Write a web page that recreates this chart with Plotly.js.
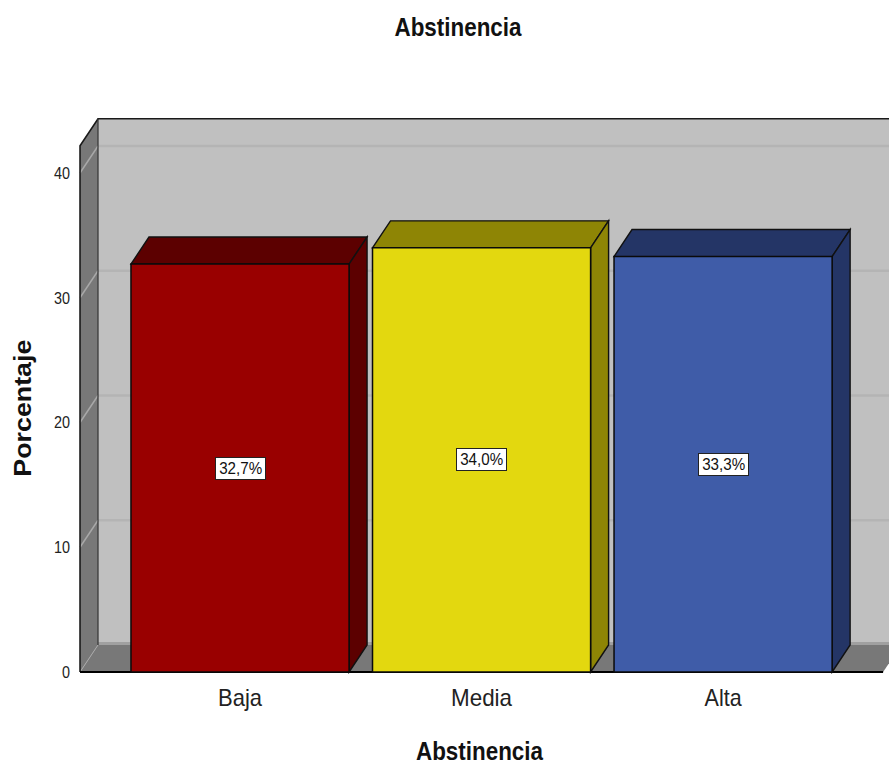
<!DOCTYPE html>
<html><head><meta charset="utf-8">
<script src="https://cdn.plot.ly/plotly-3.0.1.min.js"></script>
<style>html,body{margin:0;padding:0;background:#fff}</style></head>
<body><div id="chart" style="width:889px;height:765px"></div>
<script>
const categories = ["Baja", "Media", "Alta"];
const positions = [1, 2, 3];
const values = [32.7, 34.0, 33.3];
const valueLabels = ["32,7%", "34,0%", "33,3%"];
const frontColors = ["#990000", "#e3d80f", "#3f5ca8"];
const shadeColors = ["#5c0000", "#8e8505", "#243566"];
const yTicks = [0, 10, 20, 30, 40];
const chartTitle = "Abstinencia", xTitle = "Abstinencia", yTitle = "Porcentaje";
const barWidth = 0.903, dx = 0.0745, dy = 2.165;
const xMin = 0.296, xMax = 3.687, yMin = -0.561, yMax = 45.05;
const wallL = 1 - 160 / 241.5;
const wallR = 3 + 160 / 241.5;
const wallTop = 44.35;
const FONT = '"Liberation Sans",Arial,sans-serif';

const poly = (pts) => 'M' + pts.map(p => p[0] + ',' + p[1]).join(' L') + ' Z';
const line = (pts) => 'M' + pts.map(p => p[0] + ',' + p[1]).join(' L');
const face = (path, fill, lc, lw) => ({type:'path', xref:'x', yref:'y', layer:'below', path, fillcolor:fill,
  line:{color:lc || 'rgba(0,0,0,0)', width:lw === undefined ? 0 : lw}});

const shapes = [];
shapes.push(face(poly([[wallL+dx,dy],[wallR+dx,dy],[wallR+dx,wallTop],[wallL+dx,wallTop]]), '#c0c0c0'));
yTicks.slice(1).forEach(t => {
  shapes.push(face(line([[wallL+dx,t+dy],[wallR+dx,t+dy]]), 'rgba(0,0,0,0)', '#b4b4b4', 2.5));
});
shapes.push(face(poly([[wallL,0],[wallL+dx,dy],[wallL+dx,wallTop],[wallL,wallTop-dy]]), '#787878'));
yTicks.slice(1).forEach(t => {
  shapes.push(face(line([[wallL,t],[wallL+dx,t+dy]]), 'rgba(0,0,0,0)', '#a8a8a8', 1.5));
});
shapes.push(face(line([[wallL+dx,dy+0.12],[wallR+dx,dy+0.12]]), 'rgba(0,0,0,0)', '#a0a0a0', 3));
shapes.push(face(poly([[wallL,0],[wallR,0],[wallR+dx,dy],[wallL+dx,dy]]), '#787878'));
shapes.push(face(line([[wallL,0],[wallL+dx,dy]]), 'rgba(0,0,0,0)', '#a8a8a8', 1));
shapes.push(face(line([[wallL,0],[wallL,wallTop-dy],[wallL+dx,wallTop],[wallR+dx,wallTop]]), 'rgba(0,0,0,0)', '#1a1a1a', 1.6));
shapes.push(face(line([[wallL+dx,wallTop],[wallL+dx,dy]]), 'rgba(0,0,0,0)', '#333333', 1.2));
shapes.push(face(line([[wallL,0],[wallR,0]]), 'rgba(0,0,0,0)', '#000000', 2));
positions.forEach((p, i) => {
  const l = p - barWidth/2, r = p + barWidth/2, v = values[i];
  shapes.push(face(poly([[l,v],[r,v],[r+dx,v+dy],[l+dx,v+dy]]), shadeColors[i], '#111111', 1.4));
  shapes.push(face(poly([[r,0],[r+dx,dy],[r+dx,v+dy],[r,v]]), shadeColors[i], '#111111', 1.4));
});

const annotations = positions.map((p, i) => ({
  x: p, y: values[i] / 2, xref:'x', yref:'y', text: valueLabels[i], showarrow:false,
  bgcolor:'#ffffff', bordercolor:'#222222', borderwidth:1, borderpad:2,
  font:{family:FONT, size:16, color:'#111'}
}));
annotations.push({
  xref:'paper', yref:'paper', x:(23-70)/819, y:(679-408)/569, text:yTitle, textangle:-90, showarrow:false,
  xanchor:'center', yanchor:'middle', font:{family:FONT, size:23, weight:700, color:'#111'}
});

Plotly.newPlot('chart', [{
  type:'bar', x:positions, y:values, width:positions.map(() => barWidth),
  marker:{color:frontColors, line:{color:'#0a0a0a', width:1.5}}, hoverinfo:'skip'
}], {
  width:889, height:765, showlegend:false,
  paper_bgcolor:'#ffffff', plot_bgcolor:'#ffffff',
  margin:{l:70, r:0, t:110, b:86},
  title:{text:chartTitle, x:458/889, xanchor:'center', y:1-27/765, yanchor:'middle',
    font:{family:FONT, size:25, weight:700, color:'#111'}},
  xaxis:{range:[xMin,xMax], tickmode:'array', tickvals:positions, ticktext:categories,
    showgrid:false, zeroline:false, showline:false, ticks:'', ticklabelstandoff:2,
    tickfont:{family:FONT, size:24, color:'#222'},
    title:{text:xTitle, standoff:32, font:{family:FONT, size:25, weight:700, color:'#111'}}},
  yaxis:{range:[yMin,yMax], tickmode:'array', tickvals:yTicks, ticktext:yTicks.map(String),
    showgrid:false, zeroline:false, showline:false, ticks:'', ticklabelstandoff:-1,
    tickfont:{family:FONT, size:17, color:'#222'}},
  shapes, annotations
}, {displayModeBar:false, staticPlot:true}).then(() => {
  const fit = (el, w) => { el.setAttribute('textLength', w); el.setAttribute('lengthAdjust', 'spacingAndGlyphs'); };
  const xWidths = {Baja:44, Media:61, Alta:37};
  document.querySelectorAll('.xtick text').forEach(t => fit(t, xWidths[t.textContent] || t.getComputedTextLength()));
  document.querySelectorAll('.ytick text').forEach(t => fit(t, t.textContent.length * 8));
  document.querySelectorAll('.gtitle, .xtitle').forEach(t => fit(t, 127));
  document.querySelectorAll('.annotation-text').forEach(t => {
    fit(t, t.textContent === yTitle ? 137 : 43);
  });
});
</script></body></html>
